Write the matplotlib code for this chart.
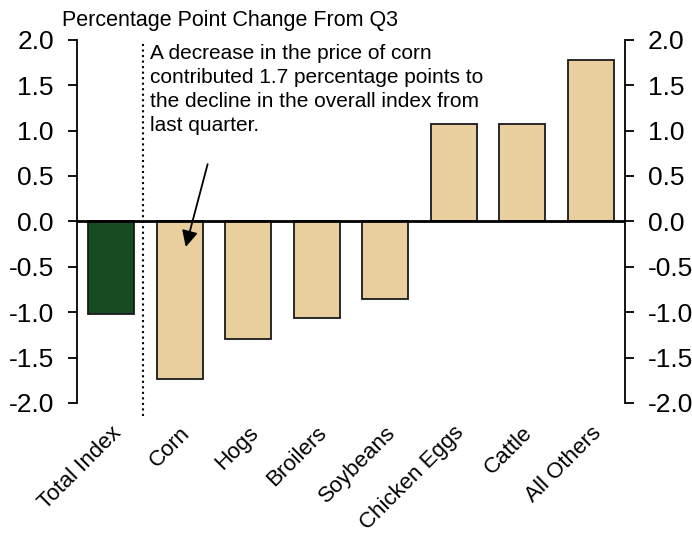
import matplotlib.pyplot as plt

plt.rcParams['font.family'] = ['Liberation Sans', 'DejaVu Sans']

categories = ['Total Index', 'Corn', 'Hogs', 'Broilers', 'Soybeans',
              'Chicken Eggs', 'Cattle', 'All Others']
values = [-1.02, -1.74, -1.30, -1.06, -0.86, 1.07, 1.07, 1.78]
colors = ['#154c22'] + ['#e8cf9d'] * 7
yticks = [2.0, 1.5, 1.0, 0.5, 0.0, -0.5, -1.0, -1.5, -2.0]

fig = plt.figure(figsize=(6.92, 5.38), dpi=100)
ax = fig.add_axes([0.111, 0.251, 0.792, 0.675])

x = range(len(categories))
ax.bar(x, values, width=0.67, color=colors, edgecolor='#1a1a1a', linewidth=1.3, zorder=2)
ax.axhline(0, color='black', linewidth=2, zorder=3)

ax.set_xlim(-0.5, 7.5)
ax.set_ylim(-2.0, 2.0)
ax.set_yticks(yticks)
ax.set_yticklabels(['%.1f' % t for t in yticks], fontsize=19)
ax.tick_params(axis='y', which='both', direction='out', length=6.5, width=1.3, pad=10,
               left=True, right=True, labelleft=True, labelright=True)
ax.set_xticks(list(x))
ax.set_xticklabels(categories, rotation=45, ha='right', rotation_mode='anchor', fontsize=16)
ax.tick_params(axis='x', length=0, pad=14)

ax.spines['top'].set_visible(False)
ax.spines['bottom'].set_visible(False)
ax.spines['left'].set_linewidth(1.3)
ax.spines['right'].set_linewidth(1.3)

ax.plot([0.47, 0.47], [1.95, -2.18], color='black', linestyle=':', linewidth=1.5, clip_on=False)

fig.text(0.09, 0.962, 'Percentage Point Change From Q3', fontsize=15.5, va='center', ha='left')
ax.text(0.57, 1.95, 'A decrease in the price of corn\ncontributed 1.7 percentage points to\n'
        'the decline in the overall index from\nlast quarter.',
        fontsize=15, va='top', ha='left', linespacing=1.32)
ax.annotate('', xy=(1.08, -0.31), xytext=(1.42, 0.66),
            arrowprops=dict(arrowstyle='-|>', color='black', lw=1.3, mutation_scale=24))

fig.savefig('out.png', dpi=100)
